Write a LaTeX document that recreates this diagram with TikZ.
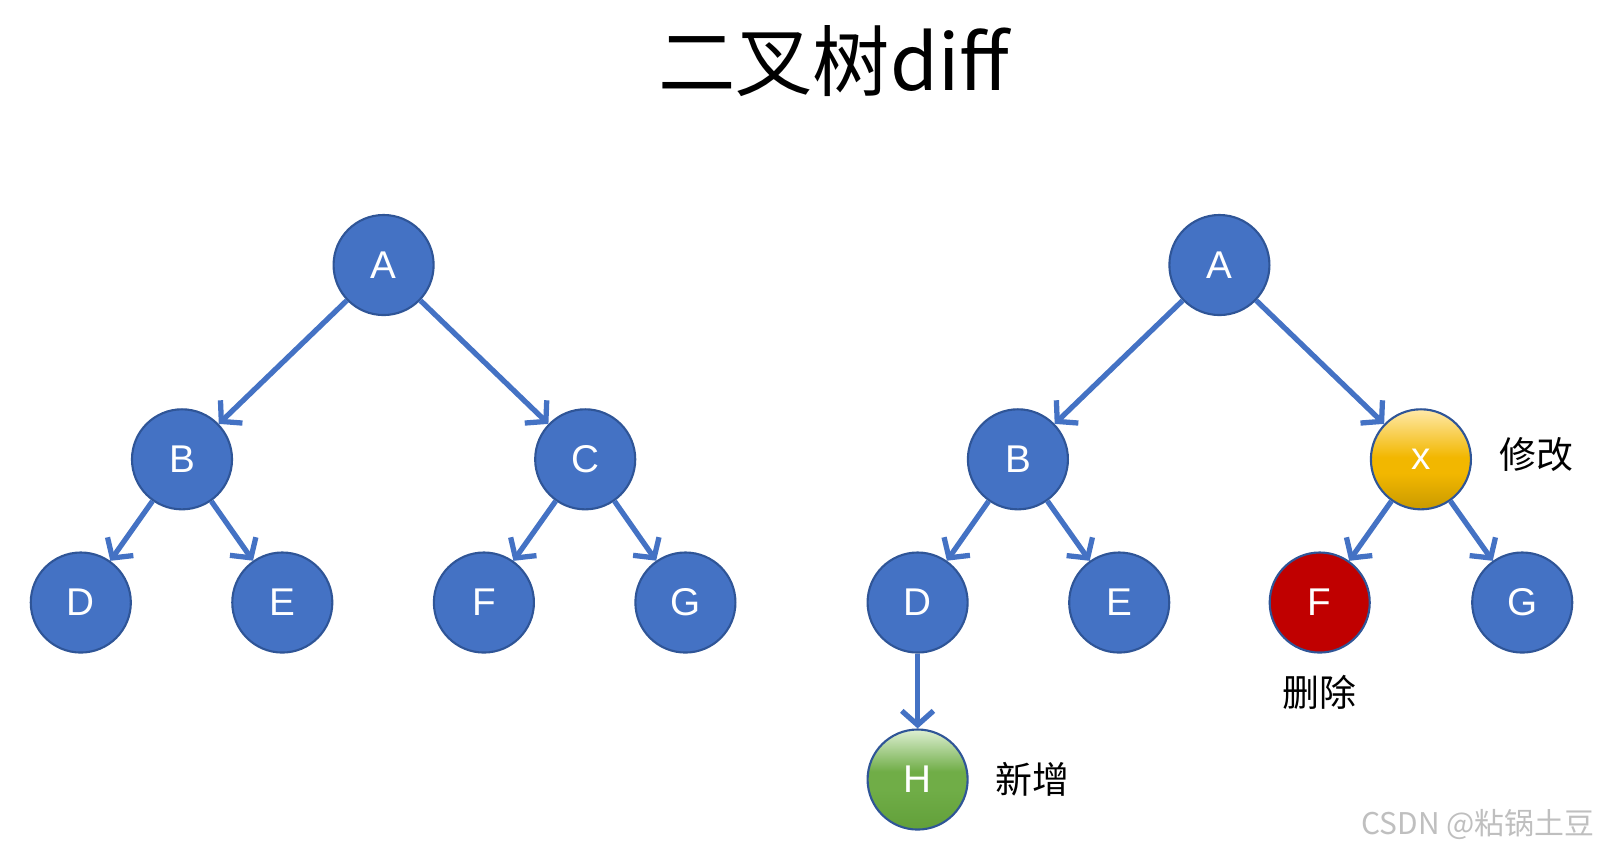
\documentclass[tikz,border=0pt]{standalone}
\usepackage{fontspec}
\setmainfont{Liberation Sans}
\newfontfamily\cjk{Noto Sans CJK SC}
\usetikzlibrary{arrows.meta}
\definecolor{nodeblue}{HTML}{4472C4}
\definecolor{nodeborder}{HTML}{2F5597}
\definecolor{delred}{HTML}{C00000}
\definecolor{goldtop}{HTML}{FFE9A8}
\definecolor{goldmid}{HTML}{F2B700}
\definecolor{goldbot}{HTML}{C99A00}
\definecolor{greentop}{HTML}{DDEFD2}
\definecolor{greenmid}{HTML}{70AD47}
\definecolor{greenbot}{HTML}{62A03A}
\pgfdeclareverticalshading{goldshade}{100bp}{color(0bp)=(goldbot); color(25bp)=(goldbot);
    color(43bp)=(goldmid); color(51bp)=(goldmid); color(75bp)=(goldtop); color(100bp)=(goldtop)}
\pgfdeclareverticalshading{greenshade}{100bp}{color(0bp)=(greenbot); color(25bp)=(greenbot);
    color(45bp)=(greenmid); color(54bp)=(greenmid); color(75bp)=(greentop); color(100bp)=(greentop)}

\begin{document}
\begin{tikzpicture}[x=0.01cm,y=-0.01cm,
    treenode/.style={circle,draw=nodeborder,line width=0.6pt,fill=nodeblue,
        minimum size=1cm,inner sep=0pt,text=white,font=\fontsize{11}{13}\selectfont},
    link/.style={draw=nodeblue,line width=1.5pt,
        -{Straight Barb[length=4pt,width=9pt]}},
    note/.style={font=\cjk\fontsize{10.5}{12}\selectfont}]
    \useasboundingbox (0,0) rectangle (1604,853);

    \node (title) at (833.7,61) {\cjk\fontsize{22}{26}\selectfont 二叉树diff};

    % left tree
    \node[treenode] (la) at (383.6,265) {A};
    \node[treenode] (lb) at (182,459.3) {B};
    \node[treenode] (lc) at (585.2,459.3) {C};
    \node[treenode] (ld) at (80.8,602.5) {D};
    \node[treenode] (le) at (282.3,602.5) {E};
    \node[treenode] (lf) at (483.9,602.5) {F};
    \node[treenode] (lg) at (685.4,602.5) {G};

    \draw[link] (la) -- (lb);
    \draw[link] (la) -- (lc);
    \draw[link] (lb) -- (ld);
    \draw[link] (lb) -- (le);
    \draw[link] (lc) -- (lf);
    \draw[link] (lc) -- (lg);

    % right tree
    \node[treenode] (ra) at (1219.4,265) {A};
    \node[treenode] (rb) at (1017.9,459.3) {B};
    \node[treenode,fill=none,shade,shading=goldshade] (rx) at (1420.9,459.3) {x};
    \node[treenode] (rd) at (917.6,602.5) {D};
    \node[treenode] (re) at (1119.2,602.5) {E};
    \node[treenode,fill=delred] (rf) at (1319.7,602.5) {F};
    \node[treenode] (rg) at (1522.2,602.5) {G};
    \node[treenode,fill=none,shade,shading=greenshade] (rh) at (917.6,779.5) {H};

    \draw[link] (ra) -- (rb);
    \draw[link] (ra) -- (rx);
    \draw[link] (rb) -- (rd);
    \draw[link] (rb) -- (re);
    \draw[link] (rx) -- (rf);
    \draw[link] (rx) -- (rg);
    \draw[link] (rd) -- (rh);

    \node[note] (modify) at (1536.5,454) {修改};
    \node[note] (delete) at (1319.7,692.6) {删除};
    \node[note] (insert) at (1032,779.5) {新增};

    \node[text=black!25] (mark) at (1478,824.5) {\cjk\fontsize{8.5}{10}\selectfont CSDN @粘锅土豆};
\end{tikzpicture}
\end{document}
